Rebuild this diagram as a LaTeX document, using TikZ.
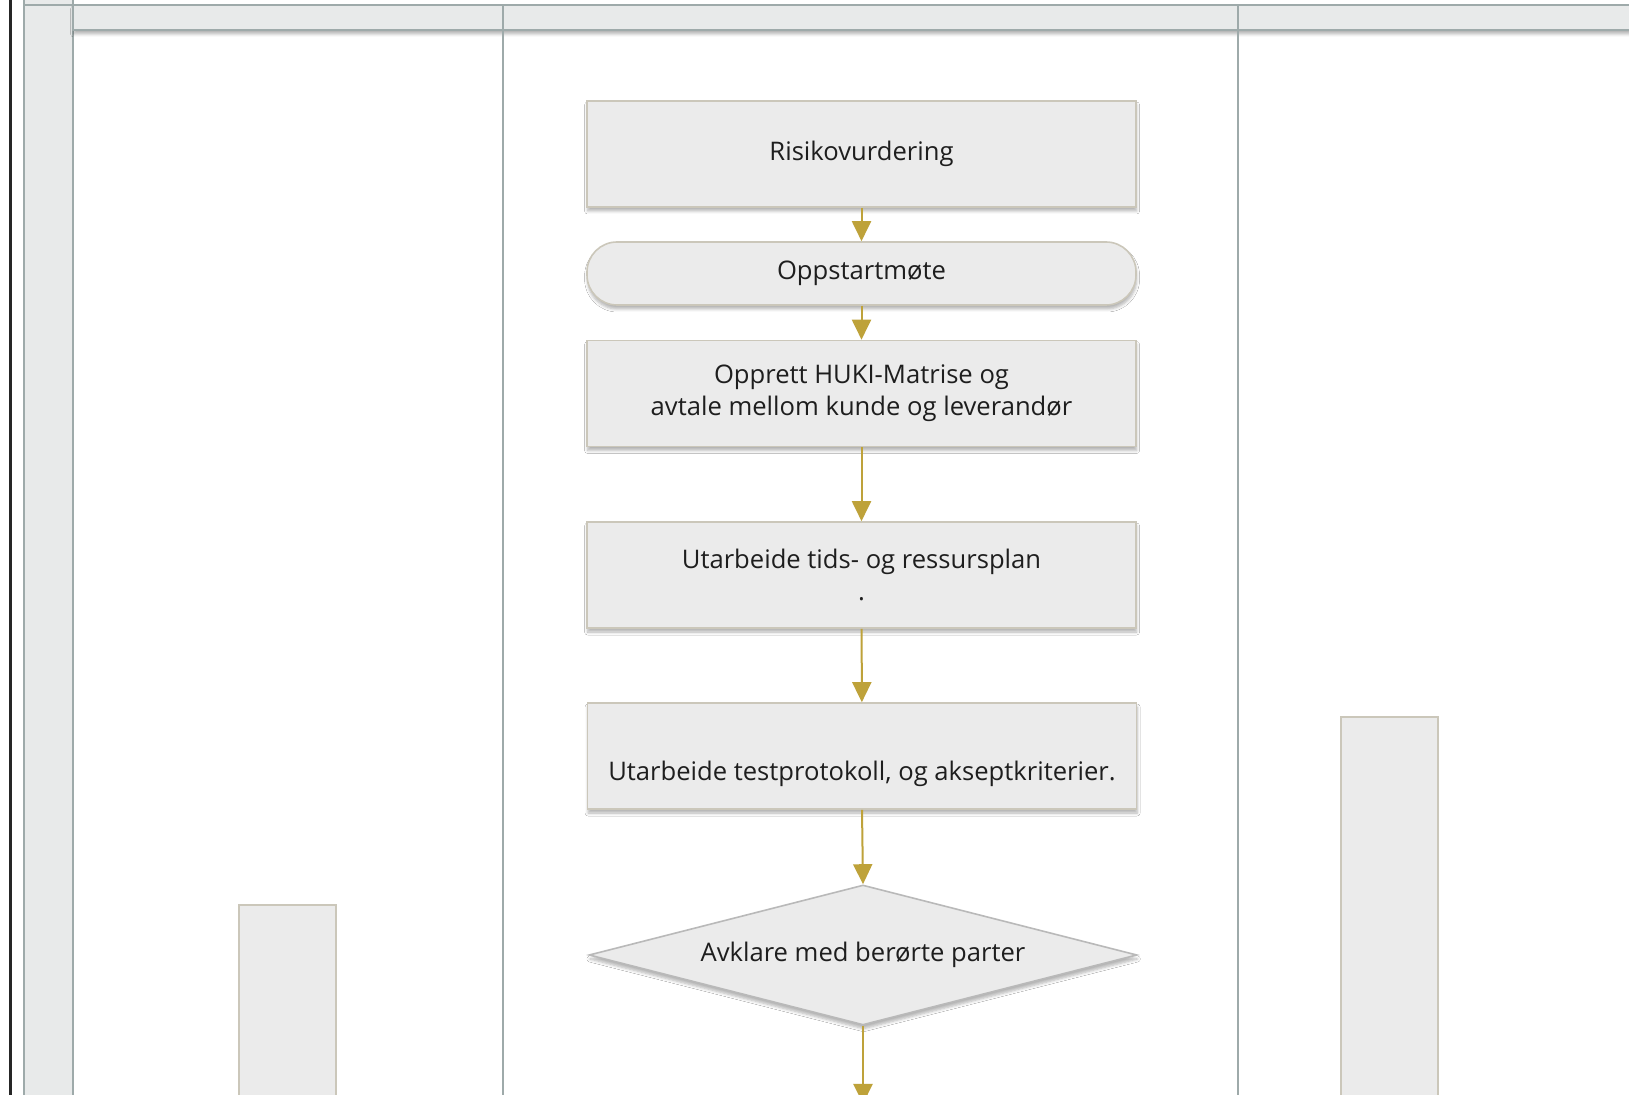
\documentclass[tikz,border=0pt]{standalone}
\usepackage{fontspec}
\setmainfont{Open Sans}
\usetikzlibrary{arrows.meta,shapes.geometric,shadows.blur}
\definecolor{boxfill}{RGB}{235,235,235}
\definecolor{boxdraw}{RGB}{203,199,186}
\definecolor{diadraw}{RGB}{185,185,185}
\definecolor{arrowc}{RGB}{190,162,58}
\definecolor{lane}{RGB}{158,170,170}
\definecolor{headfill}{RGB}{232,234,234}
\definecolor{txt}{RGB}{30,30,30}
\begin{document}
\begin{tikzpicture}[x=0.5pt,y=-0.5pt,
  shade/.style={blur shadow={shadow xshift=0.3pt, shadow yshift=-2pt, shadow blur steps=5, shadow blur radius=1.5pt, shadow opacity=30}},
  procbox/.style={draw=boxdraw, line width=0.8pt, fill=boxfill, minimum width=274.5pt, minimum height=53pt,
    align=center, font=\fontsize{12.8}{16}\selectfont, text=txt, shade},
  termbox/.style={procbox, minimum height=31.5pt, rounded corners=15pt},
  decision/.style={diamond, aspect=3.9, draw=diadraw, line width=0.8pt, fill=boxfill, minimum width=274pt, minimum height=70pt,
    inner sep=0pt, align=center, font=\fontsize{12.8}{16}\selectfont, text=txt, shade},
  sidebox/.style={draw=boxdraw, line width=1pt, fill=boxfill, minimum width=48.5pt},
  flow/.style={draw=arrowc, line width=1pt, -{Triangle[width=9.5pt,length=10pt]}},
  laneline/.style={draw=lane, line width=1pt}
]
\useasboundingbox (0,0) rectangle (1629,1095);
\clip (0,0) rectangle (1629,1095);
\fill[white] (0,0) rectangle (1629,1095);

% swimlane frame
\draw[line width=1.5pt, black!85] (10,-5) -- (10,1100);
\draw[laneline, fill=headfill] (24,-5) rectangle (73,1100);
\draw[laneline, fill=headfill, shade] (73,5) rectangle (1640,30);
\draw[laneline] (24,5) -- (73,5);
\draw[laneline] (503,5) -- (503,1100);
\draw[laneline] (1238,5) -- (1238,1100);

% side boxes
\node[sidebox, minimum height=102.5pt] (lbox) at (287.5,1007.5) {};
\node[sidebox, minimum height=196.5pt] (rbox) at (1389.5,913.5) {};

% flow
\node[procbox] (risk) at (861.5,154) {Risikovurdering};
\node[termbox] (start) at (861.5,273.5) {Oppstartmøte};
\node[procbox] (huki) at (861.5,393.5) {Opprett HUKI-Matrise og\\avtale mellom kunde og leverandør};
\node[procbox] (plan) at (861.5,575) {Utarbeide tids- og ressursplan\\.};
\node[procbox] (test) at (862,756) {\strut\\Utarbeide testprotokoll, og akseptkriterier.};
\node[decision] (dec) at (863,955) {Avklare med berørte parter};
\coordinate (out) at (863,1104);

\draw[flow] (risk) -- (start);
\draw[flow] (start) -- (huki);
\draw[flow] (huki) -- (plan);
\draw[flow] (plan) -- (test);
\draw[flow] (test.south) -- (dec.north);
\draw[flow] (dec.south) -- (out);
\end{tikzpicture}
\end{document}
